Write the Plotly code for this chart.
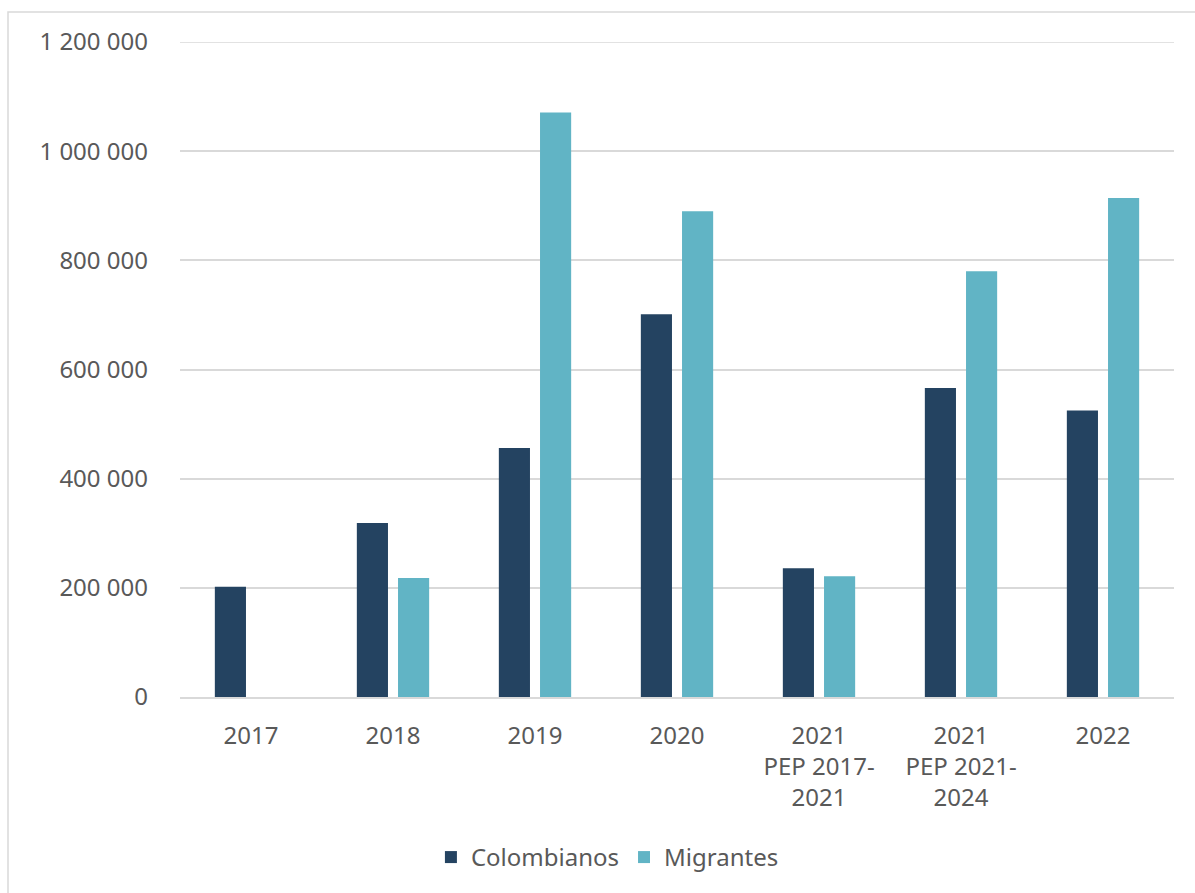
import plotly.graph_objects as go

categories = ["2017", "2018", "2019", "2020", "2021<br>PEP 2017-<br>2021", "2021<br>PEP 2021-<br>2024", "2022"]
colombianos = [202000, 319000, 456000, 701000, 236000, 566000, 525000]
migrantes = [None, 218000, 1071000, 890000, 221000, 780000, 914000]
y_ticks = [0, 200000, 400000, 600000, 800000, 1000000, 1200000]

TEXT = "#595959"
FONT = "Noto Sans"
FS = 24
GRID = "#D9D9D9"

fig = go.Figure()
fig.add_trace(go.Bar(name="Colombianos", x=categories, y=colombianos,
                     marker=dict(color="#244361", line=dict(width=0))))
fig.add_trace(go.Bar(name="Migrantes", x=categories, y=migrantes,
                     marker=dict(color="#61B4C5", line=dict(width=0))))

fig.update_layout(
    width=1195, height=893,
    margin=dict(l=180, r=21, t=42, b=196),
    paper_bgcolor="white", plot_bgcolor="white",
    font=dict(family=FONT, size=FS, color=TEXT),
    separators=", ",
    barmode="group", bargap=0.42, bargroupgap=0.244,
    showlegend=True,
    legend=dict(orientation="h", x=0.43, xanchor="center", y=-0.245, yanchor="middle",
                font=dict(size=FS, color=TEXT), itemwidth=30, traceorder="normal"),
    shapes=[
        dict(type="rect", xref="paper", yref="paper",
             x0=(8 - 180) / 994, x1=1.2, y0=-0.6, y1=(697 - 12) / 655,
             line=dict(color=GRID, width=1.5), fillcolor="rgba(0,0,0,0)", layer="below"),
        dict(type="line", xref="paper", yref="y", x0=0, x1=1,
             y0=y_ticks[-1], y1=y_ticks[-1],
             line=dict(color=GRID, width=1.5), layer="below"),
    ],
)
fig.update_yaxes(range=[0, 1200000], tickvals=y_ticks, tickformat=",d",
                 showgrid=True, gridcolor=GRID, gridwidth=1.5,
                 zeroline=False, showline=False, ticks="", ticklabelstandoff=31,
                 tickfont=dict(size=FS, color=TEXT))
fig.update_xaxes(showline=True, linecolor=GRID, linewidth=1.5, ticks="",
                 tickfont=dict(size=FS, color=TEXT), ticklabelstandoff=16)

fig.write_html("out.html")
